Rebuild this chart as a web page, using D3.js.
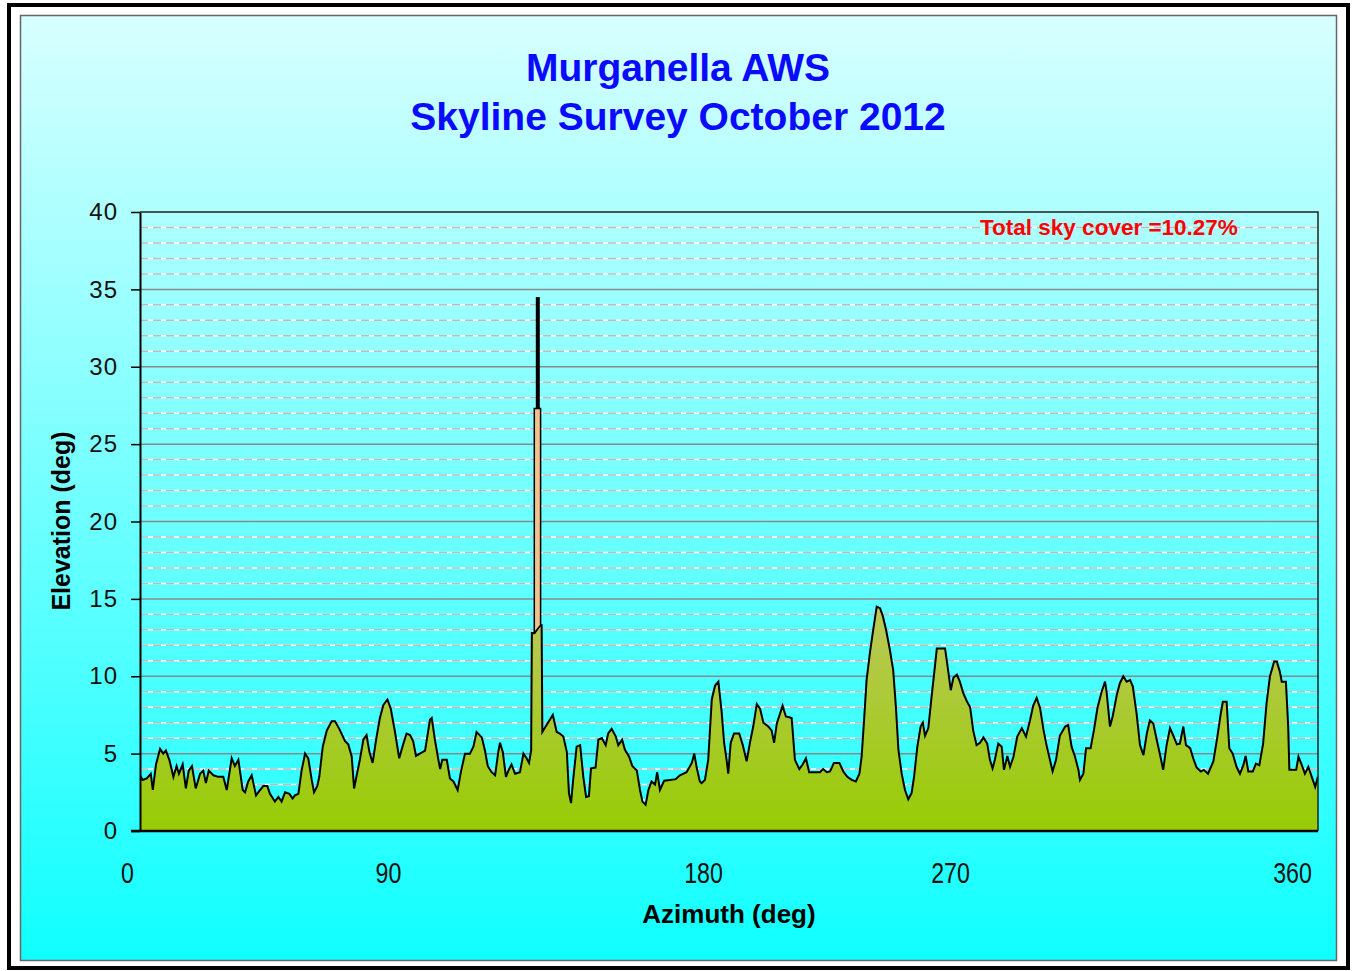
<!DOCTYPE html>
<html>
<head>
<meta charset="utf-8">
<script src="https://d3js.org/d3.v7.min.js"></script>
<style>
  body { margin: 0; background: #fff; }
  svg { display: block; font-family: "Liberation Sans", Arial, sans-serif; }
</style>
</head>
<body>
<svg id="chart" width="1355" height="971"></svg>
<script>
// ---- data ----
var titleLines = ["Murganella AWS", "Skyline Survey October 2012"];
var skyCoverNote = "Total sky cover =10.27%";
var azTicks = [0, 90, 180, 270, 360];
var elevTicks = [0, 5, 10, 15, 20, 25, 30, 35, 40];

// skyline profile [azimuth, elevation]
var skyline = [
  [4.5,3.6],[5.4,3.3],[6.8,3.4],[8.2,3.7],[8.9,2.65],[10.0,4.3],[11.4,5.3],[12.5,5.0],[13.4,5.2],[14.6,4.6],
  [16.0,3.5],[17.1,4.2],[17.9,3.7],[19.2,4.3],[20.3,2.75],[21.3,3.9],[22.4,4.2],[23.7,2.75],[25.2,3.7],[26.3,3.9],
  [27.2,3.1],[28.2,3.9],[29.8,3.6],[31.5,3.5],[33.2,3.5],[34.4,2.65],[36.1,4.7],[37.2,4.2],[38.4,4.6],[39.9,2.65],
  [40.7,2.5],[41.8,3.2],[43.0,3.6],[44.5,2.3],[45.9,2.65],[47.0,2.9],[48.4,2.9],[49.3,2.4],[51.0,1.9],[52.2,2.2],
  [53.3,1.9],[54.5,2.5],[56.0,2.4],[57.1,2.1],[57.9,2.3],[59.1,2.4],[60.2,3.9],[61.4,5.0],[62.5,4.7],[63.7,3.3],
  [64.5,2.5],[65.6,2.9],[66.3,3.5],[67.5,5.45],[68.9,6.5],[70.6,7.1],[71.7,7.1],[73.2,6.6],[75.2,5.8],[76.3,5.6],
  [77.5,4.8],[78.3,2.75],[79.2,3.6],[80.3,4.6],[81.5,5.9],[82.6,6.2],[83.6,5.1],[84.7,4.4],[85.9,5.9],[87.2,7.3],
  [88.4,8.15],[89.8,8.5],[90.8,7.9],[92.0,6.4],[93.2,4.7],[94.2,5.5],[95.3,6.3],[96.3,6.2],[97.2,5.8],[98.0,4.85],
  [99.1,5.0],[100.6,5.2],[102.0,7.2],[102.5,7.3],[103.4,5.9],[104.4,4.6],[104.9,4.0],[105.5,4.6],[106.8,4.6],[107.7,3.4],
  [108.7,3.2],[109.9,2.65],[110.9,3.9],[112.0,5.0],[113.4,5.0],[114.4,5.45],[115.3,6.4],[116.8,6.05],[117.7,5.2],[118.5,4.2],
  [119.6,3.8],[120.6,3.6],[121.5,5.1],[122.0,5.7],[122.8,5.1],[123.7,3.5],[124.4,3.9],[125.3,4.3],[126.3,3.7],[127.7,3.8],
  [128.7,5.0],[129.6,4.7],[130.3,4.4],[130.9,5.2],[131.1,12.8],[131.9,12.8],[133.4,13.3],[133.9,13.3],[134.1,6.4],[135.3,6.85],
  [137.1,7.5],[138.2,6.4],[139.1,6.3],[140.1,6.1],[141.1,5.1],[141.7,2.45],[142.3,1.8],[142.9,3.3],[143.9,5.45],[144.9,5.55],
  [145.8,3.5],[146.6,2.2],[147.4,2.25],[148.0,4.05],[149.3,4.1],[150.1,5.9],[151.1,6.0],[152.2,5.55],[152.9,6.3],[153.9,6.6],
  [155.1,6.1],[155.8,5.55],[156.9,5.9],[157.7,5.25],[158.9,4.8],[159.8,4.2],[161.1,3.9],[162.0,2.65],[162.7,1.9],[163.6,1.7],
  [164.4,2.65],[165.3,3.2],[166.3,3.0],[166.9,3.8],[167.7,2.65],[168.9,3.25],[170.6,3.3],[172.2,3.35],[173.4,3.6],[175.3,3.8],
  [176.8,4.4],[177.5,5.0],[178.2,4.1],[179.1,3.2],[179.6,3.1],[180.7,3.3],[181.9,4.6],[183.2,8.5],[184.4,9.4],[185.6,9.65],
  [186.8,7.7],[187.7,5.7],[188.6,4.6],[189.2,3.7],[190.1,5.7],[191.3,6.3],[193.2,6.3],[194.5,5.55],[195.9,4.5],[197.1,5.7],
  [198.3,6.75],[199.6,8.2],[200.8,7.9],[202.0,7.0],[203.8,6.75],[205.0,6.5],[205.9,5.7],[206.9,6.95],[208.1,7.6],[209.0,8.1],
  [210.2,7.4],[211.4,7.35],[212.3,7.3],[213.5,4.6],[215.1,4.0],[216.3,4.3],[217.5,4.7],[218.7,3.8],[220.8,3.8],[222.6,3.8],
  [223.8,4.0],[225.1,3.8],[226.3,3.85],[227.7,4.4],[229.7,4.4],[231.1,3.85],[232.6,3.5],[234.2,3.3],[235.7,3.2],[237.0,3.7],
  [237.8,4.8],[238.7,7.2],[239.6,9.75],[240.8,11.5],[242.1,13.1],[243.3,14.5],[244.5,14.4],[245.5,13.9],[246.7,13.0],[248.1,11.7],
  [249.3,10.4],[250.3,8.0],[251.2,5.25],[252.4,3.7],[253.6,2.65],[254.8,2.05],[256.0,2.45],[256.9,3.5],[258.1,5.45],[259.3,6.75],
  [260.1,7.0],[260.9,6.15],[262.1,6.65],[263.3,8.7],[264.3,10.3],[265.2,11.8],[268.2,11.8],[269.0,10.8],[270.2,9.1],[270.9,9.9],
  [271.8,10.1],[272.6,9.65],[273.5,8.9],[274.4,8.4],[275.3,8.0],[276.1,6.5],[277.0,5.55],[277.9,5.7],[278.8,6.05],[279.8,5.65],
  [280.5,4.6],[281.2,4.05],[281.8,4.6],[282.7,5.65],[283.6,5.45],[284.2,3.95],[285.1,4.85],[285.8,4.15],[286.7,4.8],[287.7,6.1],
  [288.9,6.65],[290.0,6.1],[291.1,7.2],[291.9,8.1],[292.8,8.6],[293.7,7.95],[294.6,6.55],[295.4,5.55],[296.3,4.6],[297.0,3.85],
  [297.9,4.6],[298.9,6.15],[300.3,6.75],[301.1,6.85],[302.0,5.45],[302.9,4.8],[303.8,3.95],[304.2,3.3],[305.1,3.7],[305.8,5.35],
  [307.0,5.35],[307.9,6.55],[308.8,7.95],[309.9,9.0],[310.8,9.65],[311.2,9.0],[312.1,6.75],[312.8,7.4],[313.9,8.8],[314.7,9.55],
  [315.6,10.0],[316.5,9.65],[317.4,9.75],[318.1,9.35],[319.1,7.6],[320.0,5.55],[320.9,4.9],[321.8,6.3],[322.6,7.15],[323.5,6.95],
  [324.4,5.9],[325.3,4.9],[326.1,3.95],[327.0,5.55],[327.9,6.65],[328.8,6.15],[329.7,5.6],[330.5,5.65],[331.4,6.75],[332.1,5.55],
  [333.2,5.35],[334.0,4.7],[334.9,4.1],[336.0,3.85],[336.8,3.95],[337.9,3.7],[339.3,4.5],[340.3,6.0],[341.2,7.5],[341.8,8.35],
  [342.8,8.35],[343.5,5.35],[344.4,5.0],[345.4,4.15],[346.3,3.7],[347.2,4.25],[347.8,4.85],[348.5,3.85],[349.7,3.85],[350.5,4.35],
  [351.4,4.25],[352.4,5.65],[353.3,8.25],[354.2,10.0],[355.3,10.95],[356.0,10.95],[356.8,10.3],[357.3,9.65],[358.4,9.65],[359.0,6.75],
  [359.3,3.95],[361.1,3.95],[361.7,4.8],[362.6,4.25],[363.4,3.7],[364.3,4.15],[365.2,3.5],[366.1,2.85],[366.8,3.5]
];

// structure sitting on the skyline near az 132-134 (building + mast)
var obstruction = [
  { az: 131.8, base: 12.8, top: 27.3 },
  { az: 133.6, base: 13.3, top: 27.3 }
];
var mast = { az: 132.8, base: 27.3, top: 34.5 };

// ---- layout ----
var svg = d3.select("#chart");
var plot = { left: 140, right: 1318, top: 212, bottom: 831 };

// Excel placed the category labels unevenly, so the azimuth scale is piecewise
var x = d3.scaleLinear()
    .domain(azTicks)
    .range([127, 388, 703, 950, 1292]);
var y = d3.scaleLinear()
    .domain([0, 40])
    .range([plot.bottom, plot.top]);

var defs = svg.append("defs");
var bg = defs.append("linearGradient").attr("id", "bg")
    .attr("x1", 0).attr("y1", 0).attr("x2", 0).attr("y2", 1);
bg.append("stop").attr("offset", "0%").attr("stop-color", "#d8ffff");
bg.append("stop").attr("offset", "100%").attr("stop-color", "#10ffff");

var fillGrad = defs.append("linearGradient").attr("id", "land")
    .attr("gradientUnits", "userSpaceOnUse")
    .attr("x1", 0).attr("x2", 0).attr("y1", y(15)).attr("y2", y(0));
fillGrad.append("stop").attr("offset", "0%").attr("stop-color", "#bdc85c");
fillGrad.append("stop").attr("offset", "100%").attr("stop-color", "#97cc04");

defs.append("clipPath").attr("id", "plotClip")
  .append("rect")
    .attr("x", plot.left).attr("y", plot.top - 2)
    .attr("width", plot.right - plot.left).attr("height", plot.bottom - plot.top + 2);

// outer frame + chart area
svg.append("rect")
    .attr("x", 9).attr("y", 5).attr("width", 1339).attr("height", 963)
    .attr("fill", "none").attr("stroke", "#000").attr("stroke-width", 4);
svg.append("rect")
    .attr("x", 20.5).attr("y", 15.5).attr("width", 1316).attr("height", 945)
    .attr("fill", "url(#bg)").attr("stroke", "#666").attr("stroke-width", 1.5);

// grid lines
var minor = d3.range(1, 40).filter(function (d) { return d % 5 !== 0; });
var major = [5, 10, 15, 20, 25, 30, 35];
var grid = svg.append("g");
grid.selectAll(".minw").data(minor).enter().append("line")
    .attr("x1", plot.left).attr("x2", plot.right)
    .attr("y1", function (d) { return y(d); }).attr("y2", function (d) { return y(d); })
    .attr("stroke", "#fff").attr("stroke-width", 1.5);
grid.selectAll(".ming").data(minor).enter().append("line")
    .attr("x1", plot.left).attr("x2", plot.right)
    .attr("y1", function (d) { return y(d); }).attr("y2", function (d) { return y(d); })
    .attr("stroke", "#bcbcbc").attr("stroke-width", 1.5)
    .attr("stroke-dasharray", "8,5");
grid.selectAll(".maj").data(major).enter().append("line")
    .attr("x1", plot.left).attr("x2", plot.right)
    .attr("y1", function (d) { return y(d); }).attr("y2", function (d) { return y(d); })
    .attr("stroke", "#8a8a8a").attr("stroke-width", 1.5);

// skyline area
var g = svg.append("g").attr("clip-path", "url(#plotClip)");
var area = d3.area()
    .x(function (d) { return x(d[0]); })
    .y0(y(0))
    .y1(function (d) { return y(d[1]); });
var line = d3.line()
    .x(function (d) { return x(d[0]); })
    .y(function (d) { return y(d[1]); });

g.append("path").datum(skyline)
    .attr("d", area).attr("fill", "url(#land)");
g.append("path").datum(skyline)
    .attr("d", line).attr("fill", "none")
    .attr("stroke", "#000").attr("stroke-width", 2).attr("stroke-linejoin", "miter");

// building
g.append("path").datum(obstruction)
    .attr("d", d3.area()
        .x(function (d) { return x(d.az); })
        .y0(function (d) { return y(d.base); })
        .y1(function (d) { return y(d.top); }))
    .attr("fill", "#f3c18c").attr("stroke", "#000").attr("stroke-width", 1.5);

// mast
g.append("line")
    .attr("x1", x(mast.az)).attr("x2", x(mast.az))
    .attr("y1", y(mast.base)).attr("y2", y(mast.top))
    .attr("stroke", "#000").attr("stroke-width", 4);

// plot frame (top + right)
svg.append("path")
    .attr("d", "M" + plot.left + "," + plot.top + "H" + plot.right + "V" + plot.bottom)
    .attr("fill", "none").attr("stroke", "#222").attr("stroke-width", 1.5);

// y axis
var yAxis = svg.append("g")
    .attr("transform", "translate(" + plot.left + ",0)")
    .call(d3.axisLeft(y).tickValues(elevTicks).tickSize(9).tickSizeOuter(0).tickPadding(13));
yAxis.select(".domain").attr("stroke", "#000").attr("stroke-width", 2);
yAxis.selectAll(".tick line").attr("stroke", "#000").attr("stroke-width", 1.5);
yAxis.selectAll(".tick text")
    .attr("font-size", 24).attr("fill", "#111")
    .attr("font-family", "Liberation Sans, Arial, sans-serif")
    .attr("letter-spacing", 1);

// x axis line
svg.append("line")
    .attr("x1", plot.left - 9).attr("x2", plot.right)
    .attr("y1", plot.bottom).attr("y2", plot.bottom)
    .attr("stroke", "#000").attr("stroke-width", 2.5);

var xAxis = svg.append("g")
    .attr("transform", "translate(0," + plot.bottom + ")")
    .call(d3.axisBottom(x).tickValues(azTicks).tickSize(0).tickPadding(31)
        .tickFormat(function (d) { return String(d); }));
xAxis.select(".domain").remove();
xAxis.selectAll(".tick text")
    .attr("font-size", 29).attr("fill", "#111")
    .attr("font-family", "Liberation Sans, Arial, sans-serif")
    .attr("transform", "scale(0.8,1)");

// titles
svg.selectAll(".title").data(titleLines).enter().append("text")
    .attr("x", 678)
    .attr("y", function (d, i) { return 81 + i * 49; })
    .attr("text-anchor", "middle")
    .attr("font-size", 39).attr("font-weight", "bold")
    .attr("fill", "#0a0aff")
    .text(function (d) { return d; });

svg.append("text")
    .attr("x", 980).attr("y", 235)
    .attr("font-size", 22.5).attr("font-weight", "bold")
    .attr("fill", "#ff0000")
    .text(skyCoverNote);

svg.append("text")
    .attr("x", 729).attr("y", 923)
    .attr("text-anchor", "middle")
    .attr("font-size", 26).attr("font-weight", "bold").attr("fill", "#000")
    .text("Azimuth (deg)");

svg.append("text")
    .attr("transform", "translate(69.5,521) rotate(-90)")
    .attr("text-anchor", "middle")
    .attr("font-size", 25).attr("font-weight", "bold").attr("fill", "#000")
    .text("Elevation (deg)");
</script>
</body>
</html>
